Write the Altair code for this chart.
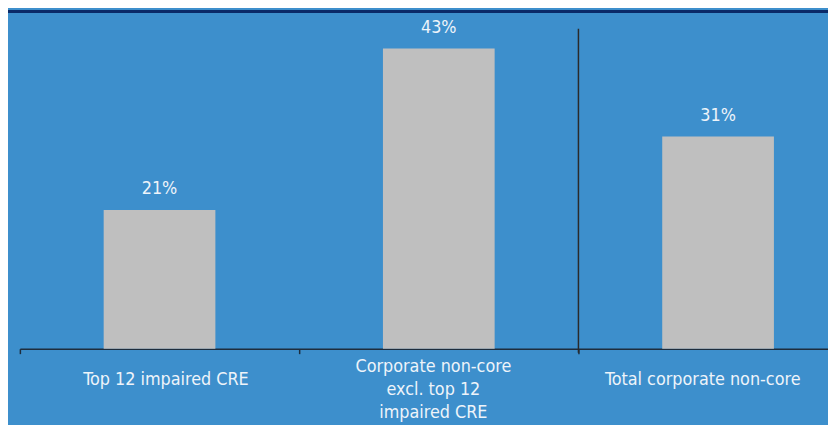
import altair as alt
import pandas as pd

# ---- data ----
categories = [
    "Top 12 impaired CRE",
    "Corporate non-core excl. top 12 impaired CRE",
    "Total corporate non-core",
]
values = [21, 43, 31]
value_labels = ["21%", "43%", "31%"]

# separator between the second and third groups
sep_category = ["Total corporate non-core"]
sep_top = [45.7]
sep_bottom = [1.55]

MULTI = categories[1]
MULTI_LINES = ["Corporate non-core", "excl. top 12", "impaired CRE"]

df = pd.DataFrame({"category": categories, "value": values, "label": value_labels})
sep_df = pd.DataFrame({"category": sep_category, "top": sep_top, "bottom": sep_bottom})
strip_df = pd.DataFrame({"k": [0]})

Y_MIN, Y_MAX = 2.1, 48.25
BG = "#3d8fcc"
BAR = "#bfbfbf"
TEXTC = "#eef4fa"
AXISC = "#1e2d3d"
FONT = "DejaVu Sans Condensed, Roboto, sans-serif"
FS = 18

label_expr = (
    "datum.value === '" + MULTI + "' ? ['" + "','".join(MULTI_LINES) + "'] : datum.label"
)

x_axis = alt.Axis(
    title=None,
    domainColor=AXISC,
    domainWidth=1.5,
    tickColor=AXISC,
    tickWidth=1.5,
    tickSize=5,
    tickBand="extent",
    labelAngle=0,
    labelFont=FONT,
    labelFontSize=FS,
    labelColor=TEXTC,
    labelLimit=400,
    labelLineHeight=23,
    labelBaseline="top",
    labelOverlap=False,
    labelExpr=label_expr,
    labelPadding={"condition": {"test": "datum.value === '" + MULTI + "'", "value": 4}, "value": 17},
    labelOffset={
        "condition": [
            {"test": "datum.value === '" + categories[0] + "'", "value": 6},
            {"test": "datum.value === '" + categories[2] + "'", "value": -16},
        ],
        "value": -6,
    },
)

x_scale = alt.Scale(range=[0, 846], paddingInner=0, paddingOuter=0)
y_scale = alt.Scale(domain=[Y_MIN, Y_MAX], zero=False, nice=False)

base = alt.Chart(df)

bars = base.mark_bar(color=BAR, width=alt.RelativeBandSize(0.4)).encode(
    x=alt.X("category:N", sort=categories, scale=x_scale, axis=x_axis),
    y=alt.Y("value:Q", scale=y_scale, axis=None),
    y2=alt.datum(Y_MIN),
)

texts = base.mark_text(
    dy=-16, baseline="alphabetic", fontSize=FS, font=FONT, color=TEXTC
).encode(
    x=alt.X("category:N", sort=categories),
    y=alt.Y("value:Q"),
    text="label:N",
)

sep = alt.Chart(sep_df).mark_rule(color="#2a2a2a", strokeWidth=1.5).encode(
    x=alt.X("category:N", sort=categories, bandPosition=0),
    y=alt.Y("top:Q"),
    y2="bottom:Q",
)

strip = alt.Chart(strip_df).mark_rect(color="#0b2a68").encode(
    x=alt.value(-12), x2=alt.value(816), y=alt.value(0), y2=alt.value(3)
)

chart = (
    alt.layer(bars, texts, sep, strip)
    .properties(
        width=816,
        height=342,
        padding={"left": 12, "top": 0, "right": 0, "bottom": 75},
        autosize=alt.AutoSizeParams(type="none"),
        background=BG,
    )
    .configure_view(stroke=None)
)

chart.save("out.html", embed_options={"renderer": "svg", "actions": False})
